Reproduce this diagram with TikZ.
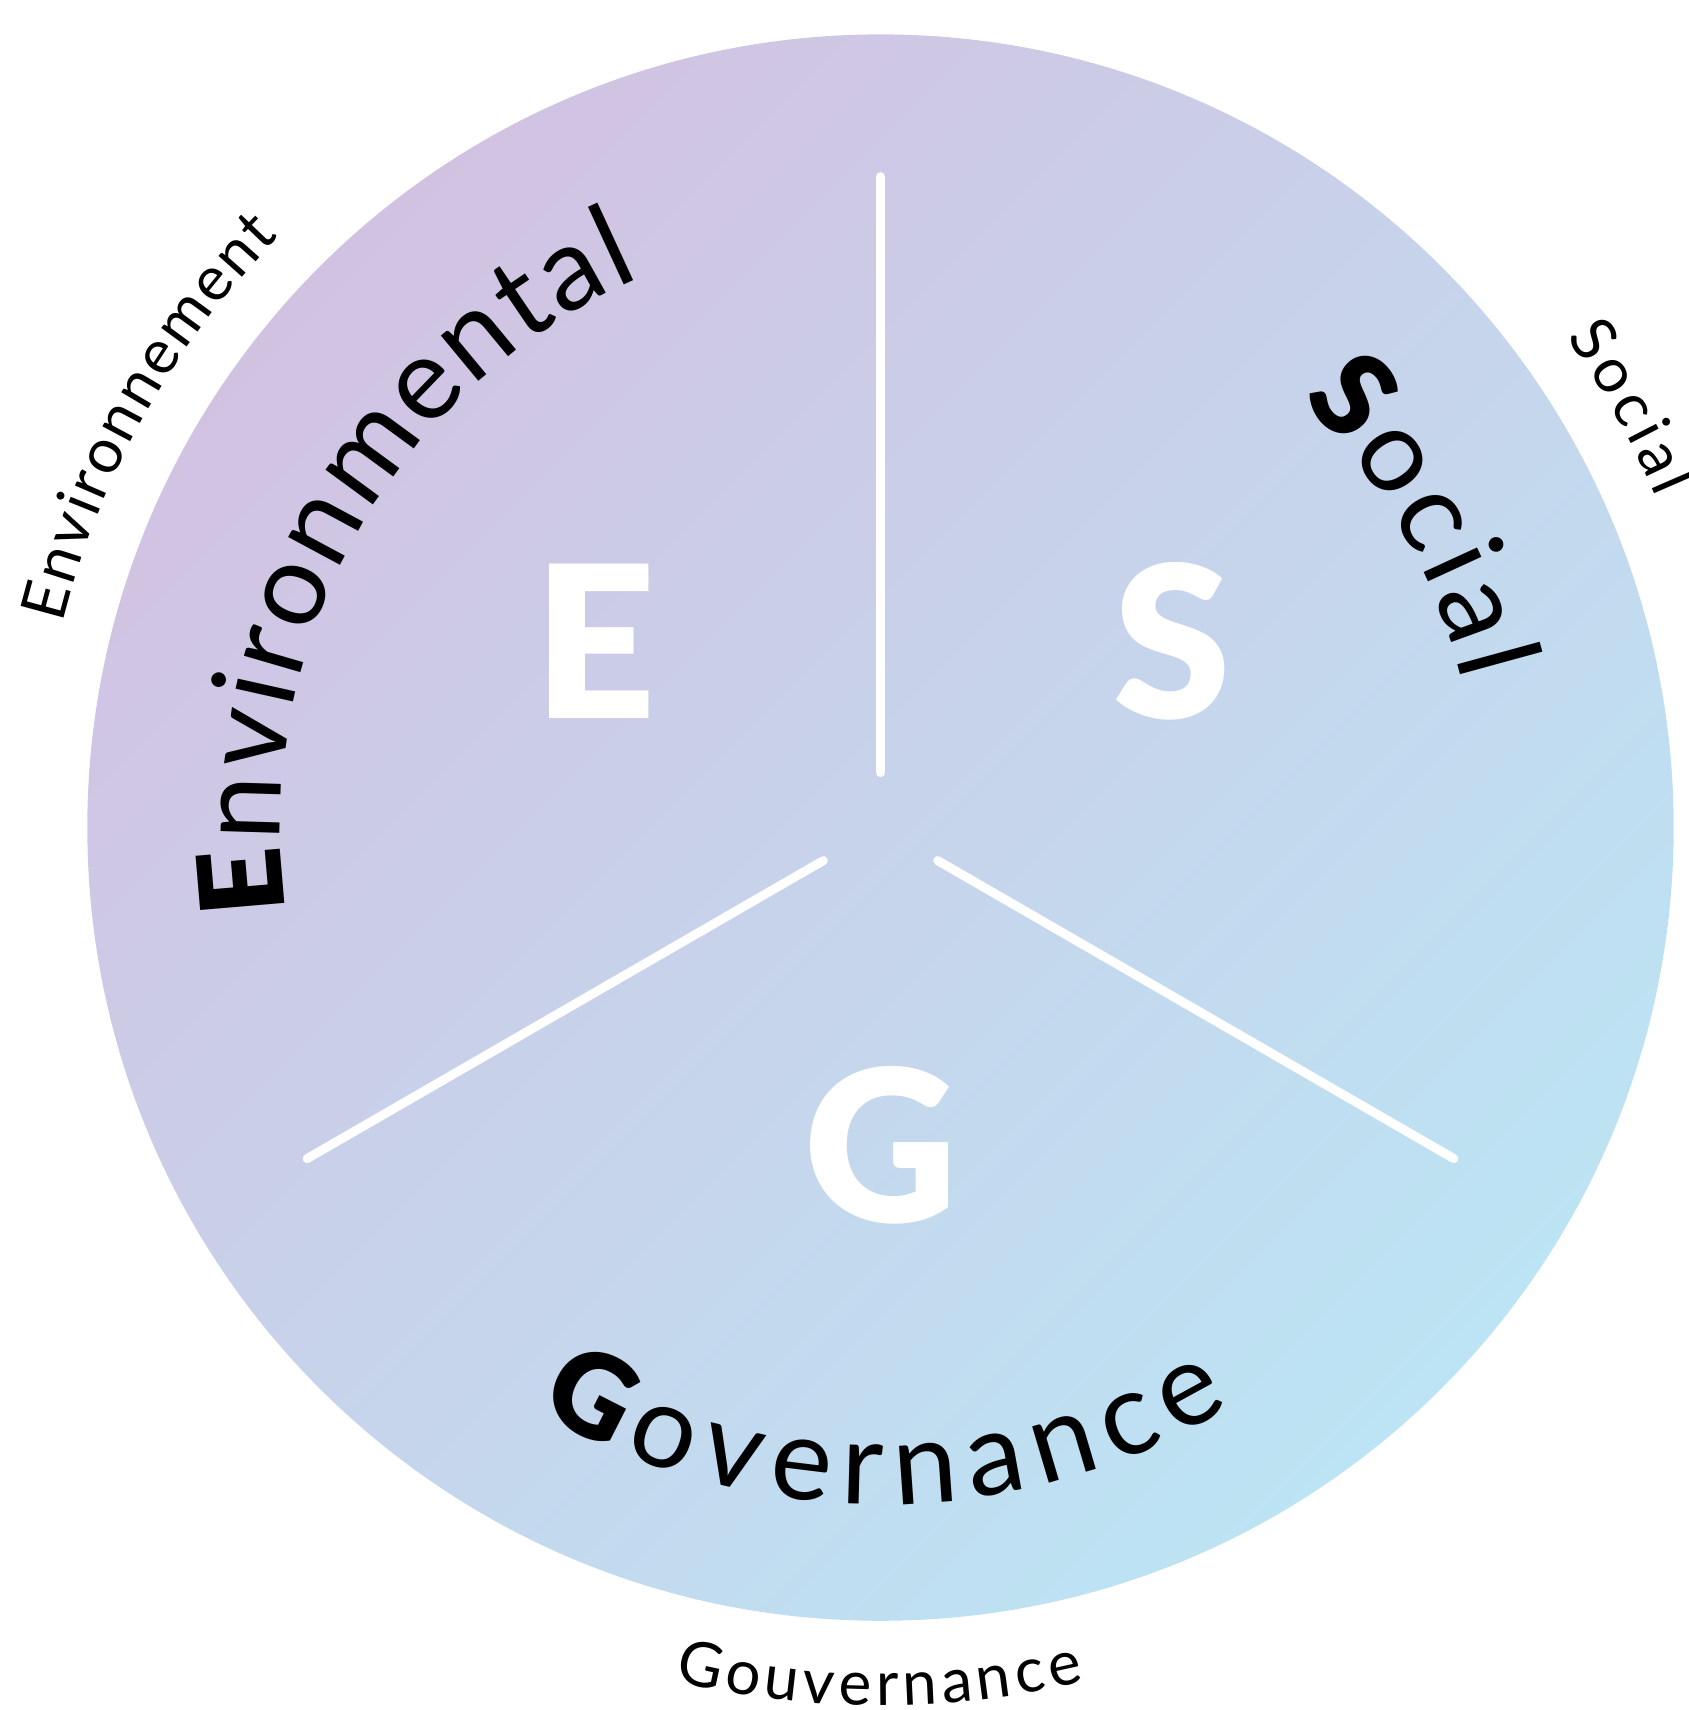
\documentclass[tikz,border=0pt]{standalone}
\usepackage{fontspec}
\setmainfont{Lato}
\newfontfamily\latoblack{Lato Black}
\usetikzlibrary{decorations.text}
\definecolor{cTL}{RGB}{210,194,226}
\definecolor{cBR}{RGB}{188,228,244}
\newcommand\inB{\fontsize{58}{60}\selectfont\latoblack}
\newcommand\inR{\fontsize{58}{60}\selectfont\normalfont}
\newcommand\outL{\fontsize{31}{33}\selectfont\normalfont}
\begin{document}
\begin{tikzpicture}[
  spoke/.style={white, line width=4.5pt, line cap=round},
  bigletter/.style={text=white, font=\fontsize{106}{110}\selectfont\latoblack, inner sep=0pt},
  arctext/.style={decorate, decoration={text along path, text align=fit to path, text={#1}}}
]
\useasboundingbox (0,0) rectangle (844.5pt,855pt);
\coordinate (C) at (440.25pt,441.2pt);
\shade[top color=cTL, bottom color=cBR, shading angle=45] (C) circle (396.6pt);
% spokes
\path (C) ++(90:27.5pt) coordinate (a1);
\path (C) ++(90:325.5pt) coordinate (b1);
\path (C) ++(210:33pt) coordinate (a2);
\path (C) ++(210:331pt) coordinate (b2);
\path (C) ++(330:33pt) coordinate (a3);
\path (C) ++(330:331pt) coordinate (b3);
\draw[spoke] (a1) -- (b1);
\draw[spoke] (a2) -- (b2);
\draw[spoke] (a3) -- (b3);
% big letters
\node[bigletter] (E) at (297.5pt,534.5pt) {E};
\node[bigletter] (S) at (586pt,534.25pt) {S};
\node[bigletter] (G) at (440.5pt,282.5pt) {G};
% inner curved words
\path[arctext={|\inB|E|\inR|nvironmental}] (C) ++(188:300pt) arc[start angle=188, end angle=113.5, radius=300pt];
\path[arctext={|\inB|S|\inR|ocial}] (C) ++(45.5:300pt) arc[start angle=45.5, end angle=14, radius=300pt];
\path[arctext={|\inB|G|\inR|overnance}] (C) ++(-120.5:338.5pt) arc[start angle=-120.5, end angle=-58.8, radius=338.5pt];
% outer curved words
\path[arctext={|\outL|Environnement}] (C) ++(166:421.5pt) arc[start angle=166, end angle=135.5, radius=421.5pt];
\path[arctext={|\outL|Social}] (C) ++(35.5:421.5pt) arc[start angle=35.5, end angle=23, radius=421.5pt];
\path[arctext={|\outL|Gouvernance}] (C) ++(-103.6:439pt) arc[start angle=-103.6, end angle=-76.6, radius=439pt];
\end{tikzpicture}
\end{document}
